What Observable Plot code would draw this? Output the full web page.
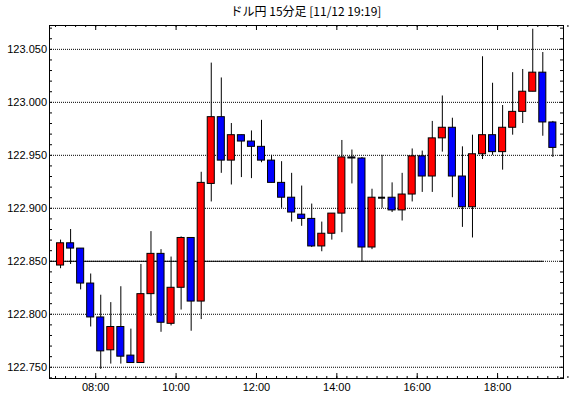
<!DOCTYPE html>
<html>
<head>
<meta charset="utf-8">
<script src="https://cdn.jsdelivr.net/npm/d3@7"></script>
<script src="https://cdn.jsdelivr.net/npm/@observablehq/plot@0.6"></script>
<style>
  html, body { margin: 0; padding: 0; background: #ffffff; }
  #title { height: 24px; box-sizing: border-box; padding: 3px 7px 0 49px; text-align: center;
           font-family: "Noto Sans CJK JP", sans-serif; font-size: 12px; line-height: 16px; color: #000; }
  #chart svg { display: block; }
</style>
</head>
<body>
<div id="title">ドル円 15分足 [11/12 19:19]</div>
<div id="chart"></div>
<script>
const times = ["07:00","07:15","07:30","07:45","08:00","08:15","08:30","08:45","09:00","09:15",
  "09:30","09:45","10:00","10:15","10:30","10:45","11:00","11:15","11:30","11:45",
  "12:00","12:15","12:30","12:45","13:00","13:15","13:30","13:45","14:00","14:15",
  "14:30","14:45","15:00","15:15","15:30","15:45","16:00","16:15","16:30","16:45",
  "17:00","17:15","17:30","17:45","18:00","18:15","18:30","18:45","19:00","19:15"];
const open = [122.846,122.867,122.862,122.829,122.797,122.766,122.788,122.761,122.754,122.819,
  122.857,122.791,122.825,122.872,122.812,122.923,122.986,122.945,122.969,122.963,
  122.958,122.945,122.924,122.910,122.894,122.890,122.864,122.876,122.895,122.948,
  122.947,122.863,122.910,122.910,122.898,122.913,122.949,122.930,122.966,122.976,
  122.930,122.901,122.951,122.969,122.953,122.976,122.991,123.010,123.028,122.981];
const high = [122.870,122.880,122.862,122.838,122.818,122.811,122.826,122.786,122.847,122.878,
  122.861,122.854,122.873,122.872,122.934,123.037,123.023,122.980,122.969,122.973,
  122.983,122.950,122.944,122.933,122.921,122.904,122.887,122.895,122.964,122.955,
  122.948,122.918,122.950,122.924,122.933,122.956,122.954,122.982,123.006,122.985,
  122.958,122.969,123.043,123.018,122.997,123.028,123.031,123.069,123.047,122.982];
const low = [122.843,122.847,122.823,122.788,122.748,122.753,122.753,122.754,122.754,122.798,
  122.783,122.789,122.804,122.784,122.795,122.906,122.933,122.922,122.929,122.928,
  122.943,122.924,122.900,122.887,122.883,122.863,122.859,122.870,122.877,122.923,
  122.849,122.861,122.900,122.896,122.888,122.906,122.915,122.915,122.953,122.910,
  122.882,122.872,122.946,122.950,122.936,122.969,122.980,123.010,122.968,122.948];
const close = [122.867,122.862,122.829,122.797,122.765,122.788,122.760,122.754,122.819,122.857,
  122.792,122.825,122.872,122.812,122.924,122.986,122.945,122.969,122.963,122.958,
  122.945,122.924,122.910,122.896,122.890,122.864,122.876,122.895,122.948,122.947,
  122.863,122.910,122.910,122.898,122.913,122.949,122.930,122.966,122.976,122.930,
  122.901,122.951,122.969,122.953,122.976,122.991,123.010,123.028,122.981,122.957];
const yTickValues = [122.750,122.800,122.850,122.900,122.950,123.000,123.050];
const xTickLabels = ["08:00","10:00","12:00","14:00","16:00","18:00"];
const baseLine = 122.850;
const baseLineEnd = "19:09";
const xDomain = ["06:51","19:38.4"];
const yDomain = [122.7394, 123.0725];

const toH = s => { const [h, m] = s.split(":"); return +h + +m / 60; };
const candleH = 0.25;
const data = times.map((t, i) => ({t: toH(t), o: open[i], h: high[i], l: low[i], c: close[i]}));
const bodies = data.filter(d => d.o !== d.c);
const dojis = data.filter(d => d.o === d.c);

const W = 570, H = 374, mL = 49, mR = 7, mT = 1, mB = 20;
const pw = W - mL - mR, ph = H - mT - mB;
const x0 = toH(xDomain[0]), x1 = toH(xDomain[1]);
const yMinor = d3.range(122.74, 123.0701, 0.01).map(v => +v.toFixed(3));
const xMinor = d3.range(7, 19.76, 0.25);
const xMajor = xTickLabels.map(toH);

const chart = Plot.plot({
  width: W, height: H, marginLeft: mL, marginRight: mR, marginTop: mT, marginBottom: mB,
  x: {domain: [x0, x1], axis: null, label: null},
  y: {domain: yDomain, axis: null, label: null},
  color: {type: "identity"},
  style: {fontFamily: "'Liberation Sans', sans-serif", fontSize: "11px", background: "#ffffff", color: "#000"},
  marks: [
    Plot.ruleY(yTickValues, {stroke: "#000", strokeDasharray: "1,1"}),
    Plot.ruleY([baseLine], {x1: x0, x2: toH(baseLineEnd), stroke: "#000"}),
    Plot.ruleX(data, {x: d => d.t + candleH / 2, y1: "l", y2: "h", stroke: "#000"}),
    Plot.rect(bodies, {x1: "t", x2: d => d.t + candleH, y1: "o", y2: "c",
      fill: d => d.c > d.o ? "#ff0000" : "#0000ff", stroke: "#000", insetLeft: 1.5, insetRight: 1.5}),
    Plot.ruleY(dojis, {y: "o", x1: "t", x2: d => d.t + candleH, insetLeft: 1.5, insetRight: 1.5, stroke: "#000", strokeWidth: 2}),
    Plot.tickY(yMinor, {y: d => d, insetRight: pw - 3, stroke: "#000"}),
    Plot.tickY(yMinor, {y: d => d, insetLeft: pw - 3, stroke: "#000"}),
    Plot.tickX(xMinor, {x: d => d, insetTop: ph - 2, stroke: "#000"}),
    Plot.tickX(xMinor, {x: d => d, insetBottom: ph - 2, stroke: "#000"}),
    Plot.tickX(xMajor, {x: d => d, insetTop: ph - 5, stroke: "#000"}),
    Plot.tickX(xMajor, {x: d => d, insetBottom: ph - 5, stroke: "#000"}),
    Plot.frame({stroke: "#000"}),
    Plot.axisY(yTickValues, {anchor: "left", label: null, tickSize: 0, tickPadding: 2.5, tickFormat: d => d.toFixed(3)}),
    Plot.axisX(xMajor, {anchor: "bottom", label: null, tickSize: 0, tickPadding: 5, tickFormat: (d, i) => xTickLabels[i]})
  ]
});
document.getElementById("chart").appendChild(chart);
</script>
</body>
</html>
